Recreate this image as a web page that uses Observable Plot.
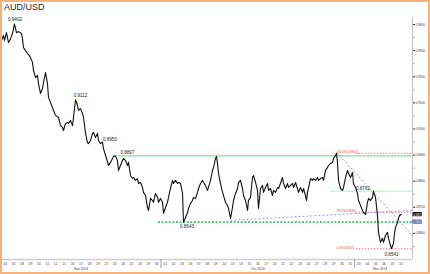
<!DOCTYPE html>
<html><head><meta charset="utf-8">
<script src="https://cdn.jsdelivr.net/npm/d3@7"></script>
<script src="https://cdn.jsdelivr.net/npm/@observablehq/plot@0.6"></script>
<style>
html,body{margin:0;padding:0;background:#fff;}
#wrap{position:relative;width:430px;height:274px;overflow:hidden;background:#fff;}
#chart svg{display:block;}
#frame{position:absolute;left:0;top:0;width:430px;height:274px;box-sizing:border-box;border:2px solid #f5b27a;pointer-events:none;}
#title{position:absolute;left:4px;top:2px;font:9px "Liberation Sans",Arial,sans-serif;color:#2a2a2a;}
</style></head><body>
<div id="wrap"><div id="chart"></div><div id="title">AUD/USD</div><div id="frame"></div></div>
<script>
// Trading-day labels (x axis)
const dayLabels = ["04","05","08","09","10","11","12","15","16","17","18","19","22","23","24","25","26","29","30",
 "01","02","03","06","07","08","09","10","13","14","15","16","17","20","21","22","23","24","27","28","29","30","31",
 "03","04","05","06","07","10"];
const monthLabels = ["Sep 2014","Oct 2014","Nov 2014"];
// Right axis tick labels
const yTicks = [0.86,0.87,0.88,0.89,0.90,0.91,0.92,0.93,0.94];
const yMinor = [0.855,0.865,0.875,0.885,0.895,0.905,0.915,0.925,0.935];

// Price path: time in trading days since 4 Sep 2014, close price
const session = [0.00,0.06,0.30,0.42,0.65,0.89,1.13,1.37,1.60,1.84,2.08,2.43,2.55,2.67,2.91,3.15,3.38,3.50,3.74,3.86,
 4.10,4.33,4.45,4.69,4.93,5.05,5.29,5.52,5.64,5.88,6.24,6.47,6.83,7.07,7.30,7.42,7.66,7.90,8.02,8.25,
 8.49,8.61,8.85,9.09,9.20,9.44,9.68,9.80,10.04,10.27,10.39,10.63,10.87,10.99,11.22,11.46,11.58,11.82,12.05,12.17,
 12.53,12.77,13.00,13.24,13.36,13.60,13.83,13.95,14.19,14.43,14.55,14.79,15.02,15.14,15.38,15.62,15.74,15.97,16.21,16.33,
 16.57,16.80,16.92,17.16,17.40,17.52,17.76,17.99,18.11,18.35,18.59,18.71,18.94,19.18,19.30,19.54,19.77,19.89,20.13,20.37,
 20.49,20.72,20.96,21.08,21.32,21.56,21.67,21.91,22.15,22.27,22.51,22.74,22.86,23.10,23.34,23.46,23.69,23.93,24.05,24.29,
 24.52,24.64,24.88,25.12,25.24,25.48,25.59,25.71,25.83,26.07,26.31,26.43,26.66,26.90,27.02,27.26,27.49,27.61,27.85,28.09,
 28.21,28.44,28.68,28.80,29.04,29.28,29.39,29.63,29.87,29.99,30.23,30.46,30.58,30.82,31.06,31.18,31.41,31.65,31.77,32.01,
 32.24,32.36,32.60,32.84,32.96,33.19,33.43,33.55,33.79,34.03,34.14,34.38,34.62,34.74,34.98,35.21,35.33,35.57,35.81,35.93,
 36.16,36.28,36.40,36.76,37.00,37.11,37.35,37.59,37.71,37.95,38.18,38.30,38.54,38.78,38.90,39.13,39.37,39.49,39.73,39.85,
 39.96,40.08,40.32,40.56,40.68,40.91,41.15,41.27,41.51,41.75,41.86,42.10,42.34,42.46,42.70,42.93,43.05,43.29,43.53,43.65,
 43.88,44.12,44.24,44.48,44.71,44.83,45.07,45.31,45.43,45.66,45.90,46.02,46.26,46.38,46.61,46.73,46.85,47.09,47.21,47.33,47.56];
const close = [0.9346,0.9339,0.9358,0.9339,0.9369,0.9331,0.9346,0.9366,0.9402,0.9369,0.9373,0.9366,0.9346,0.9312,0.9300,0.9289,0.9281,0.9274,0.9255,0.9224,
 0.9197,0.9205,0.9174,0.9136,0.9155,0.9178,0.9216,0.9174,0.9121,0.9101,0.9071,0.9052,0.9044,0.9013,0.9006,0.8994,0.9021,0.9025,0.9021,0.9033,
 0.9013,0.9044,0.9112,0.9090,0.9071,0.9078,0.9059,0.9044,0.8983,0.8948,0.8944,0.8956,0.8983,0.8987,0.8967,0.8983,0.8956,0.8944,0.8950,0.8925,
 0.8887,0.8860,0.8872,0.8887,0.8895,0.8897,0.8879,0.8841,0.8860,0.8879,0.8887,0.8879,0.8860,0.8872,0.8822,0.8810,0.8814,0.8803,0.8810,0.8791,
 0.8795,0.8776,0.8757,0.8745,0.8699,0.8688,0.8734,0.8726,0.8719,0.8753,0.8738,0.8719,0.8734,0.8719,0.8677,0.8699,0.8719,0.8738,0.8772,0.8803,
 0.8791,0.8803,0.8791,0.8795,0.8791,0.8753,0.8643,0.8661,0.8680,0.8696,0.8715,0.8726,0.8738,0.8734,0.8757,0.8772,0.8791,0.8803,0.8795,0.8784,
 0.8765,0.8776,0.8803,0.8841,0.8853,0.8887,0.8895,0.8868,0.8830,0.8791,0.8757,0.8745,0.8719,0.8707,0.8696,0.8657,0.8699,0.8726,0.8753,0.8772,
 0.8795,0.8803,0.8772,0.8745,0.8726,0.8688,0.8726,0.8738,0.8814,0.8822,0.8795,0.8765,0.8696,0.8772,0.8784,0.8757,0.8776,0.8791,0.8765,0.8772,
 0.8745,0.8765,0.8757,0.8776,0.8772,0.8791,0.8814,0.8791,0.8772,0.8791,0.8776,0.8784,0.8791,0.8776,0.8795,0.8772,0.8757,0.8776,0.8757,0.8772,
 0.8745,0.8726,0.8757,0.8810,0.8803,0.8810,0.8803,0.8814,0.8803,0.8810,0.8814,0.8803,0.8841,0.8853,0.8860,0.8868,0.8872,0.8887,0.8899,0.8907,
 0.8872,0.8803,0.8772,0.8765,0.8776,0.8814,0.8841,0.8830,0.8814,0.8833,0.8791,0.8776,0.8753,0.8726,0.8707,0.8688,0.8680,0.8673,0.8719,0.8734,
 0.8726,0.8738,0.8762,0.8738,0.8669,0.8604,0.8566,0.8581,0.8566,0.8592,0.8604,0.8581,0.8554,0.8541,0.8562,0.8600,0.8623,0.8642,0.8657,0.8669,0.8672];

// Swing-point labels
const swingLabels = ["0.9402","0.9112","0.8950","0.8643","0.8762","0.8541"];
const swingT = [1.60, 8.85, 12.05, 21.67, 44.24, 46.38];
const swingP = [0.9402, 0.9112, 0.8950, 0.8643, 0.8762, 0.8541];

// Support / resistance levels
const levelLabels = ["0.8897", "", ""];
const levelValues = [0.8897, 0.8762, 0.8643];
const levelFrom = [13.95, 39.1, 18.7];

// Fibonacci retracement (Oct 29 high to Nov 7 low)
const fibLabels = ["100.0%(0.8907)", "38.2%(0.8681)", "0.0%(0.8541)"];
const fibValues = [0.8907, 0.8681, 0.8541];
const fibLabelT = 39.85;
const fibLineFrom = 42.2;

// Trend lines
const trendT1 = [27.26, 39.96];
const trendP1 = [0.8650, 0.8907];
const trendT2 = [48.87, 48.87];
const trendP2 = [0.8688, 0.8592];

// Right-edge value tags
const lastTag = close[close.length - 1];
const blueTag = 0.8643;

const xMax = 48.87;
const prices = session.map((t, i) => ({t, p: close[i]}));
const dayCenters = dayLabels.map((d, i) => i + 0.5);
// month spans derived from day labels
const monthStarts = [0];
dayLabels.forEach((d, i) => { if (i > 0 && +d < +dayLabels[i - 1]) monthStarts.push(i); });
const monthEnds = monthStarts.slice(1).concat([dayLabels.length]);
const monthCenters = monthStarts.map((s, i) => (s + monthEnds[i]) / 2);

const font = "'Liberation Sans', Arial, sans-serif";
const swingOffsets = [[0.5,-4.5],[5,-4],[7.5,-2.5],[3.5,4.5],[-10.5,-2.5],[0,5.5]];
const levelStyles = [
  {stroke: "#93d6a9", strokeWidth: 1.4},
  {stroke: "#c9ecd5", strokeWidth: 1.4},
  {stroke: "#4dbb72", strokeWidth: 1.6, strokeDasharray: "2,1.6"}
];

const marks = [
  Plot.ruleY([0.85], {stroke: "#cfcfcf", strokeWidth: 1.5}),
  Plot.ruleX([xMax], {stroke: "#c4c4c4", strokeWidth: 1}),
  Plot.axisY({anchor: "right", ticks: yMinor, tickSize: 1.5, tickFormat: () => "", stroke: "#999", label: null}),
  Plot.axisY({anchor: "right", ticks: yTicks, tickSize: 2, tickPadding: 1, tickFormat: d => d.toFixed(4), fontSize: 3.1, color: "#333", label: null}),
  Plot.axisX({ticks: dayCenters, tickSize: 0, tickPadding: 3.5, tickFormat: d => dayLabels[Math.round(d - 0.5)], fontSize: 3.4, color: "#444", label: null}),
  Plot.ruleX(monthStarts.slice(1), {y1: 0.85, y2: 0.85, insetBottom: -9, stroke: "#777", strokeWidth: 0.7}),
  Plot.text(monthLabels, {x: (d, i) => monthCenters[i], y: () => 0.85, dy: 9, fontSize: 3.4, fill: "#444"})
];
levelValues.forEach((v, i) => {
  marks.push(Plot.ruleY([v], {x1: levelFrom[i], x2: xMax, ...levelStyles[i]}));
});
fibValues.forEach((v, i) => {
  marks.push(Plot.ruleY([v], {x1: fibLineFrom, x2: xMax, stroke: "#f07a7a", strokeWidth: 1, strokeDasharray: "1.5,1.5"}));
});
marks.push(Plot.link([0, 1], {x1: i => trendT1[i], y1: i => trendP1[i], x2: i => trendT2[i], y2: i => trendP2[i],
  stroke: "#9a9ae0", strokeWidth: 1, strokeDasharray: "2,2"}));
marks.push(Plot.line(prices, {x: "t", y: "p", stroke: "#111", strokeWidth: 1.1}));
swingLabels.forEach((s, i) => {
  marks.push(Plot.text([s], {x: () => swingT[i], y: () => swingP[i], dx: swingOffsets[i][0], dy: swingOffsets[i][1],
    fontSize: 4.6, fill: "#222"}));
});
levelLabels.forEach((s, i) => {
  if (s) marks.push(Plot.text([s], {x: () => levelFrom[i], y: () => levelValues[i], dx: 9, dy: -3.5, fontSize: 4.6, fill: "#222"}));
});
marks.push(Plot.text(fibLabels, {x: () => fibLabelT, y: (d, i) => fibValues[i], textAnchor: "start", dy: -0.8, fontSize: 3, fill: "#e8434a"}));
const tags = [{v: lastTag, c: "#111"}, {v: blueTag, c: "#5a5ab8"}];
marks.push(Plot.rect(tags, {x1: () => xMax, x2: () => xMax, y1: "v", y2: "v", insetLeft: 0.5, insetRight: -10, insetTop: -2.2, insetBottom: -2.2, fill: "c", rx: 1}));
marks.push(Plot.text(tags, {x: () => xMax, y: "v", dx: 5.5, text: d => d.v.toFixed(4), fontSize: 3, fill: "#fff"}));

const plot = Plot.plot({
  width: 430, height: 274,
  marginLeft: 0.5, marginRight: 18, marginTop: 17, marginBottom: 15,
  x: {domain: [0, xMax], label: null},
  y: {domain: [0.85, 0.9427], label: null},
  color: {type: "identity"},
  style: {fontFamily: font, background: "transparent", overflow: "visible"},
  marks
});
document.getElementById("chart").appendChild(plot);
</script>
</body></html>
